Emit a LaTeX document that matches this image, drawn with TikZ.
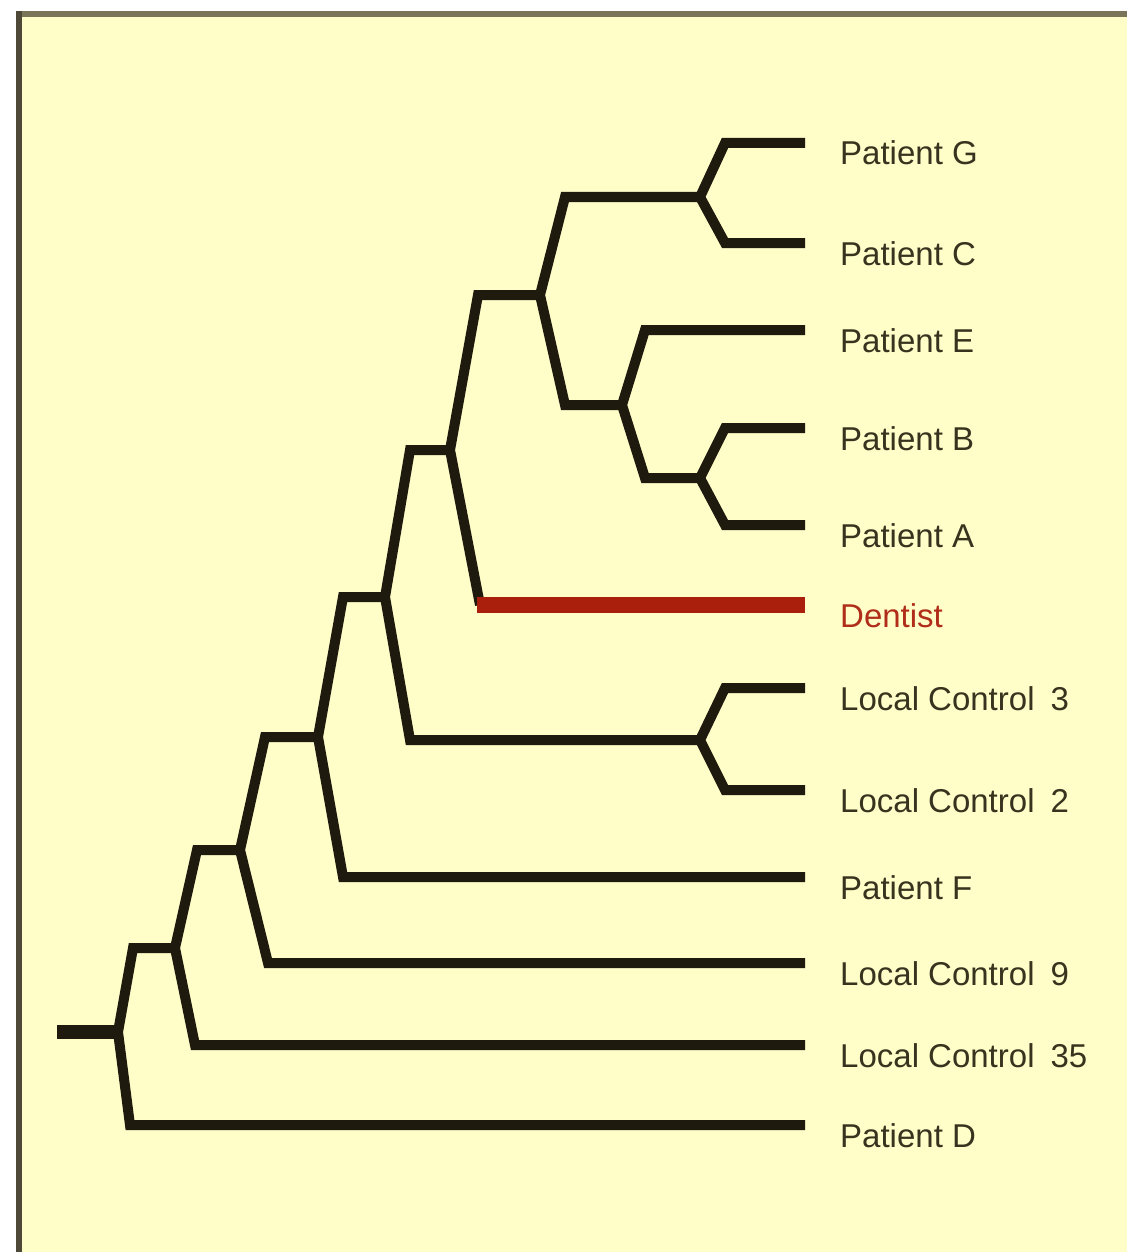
\documentclass[tikz,border=0pt]{standalone}
\usepackage{fontspec}
\setmainfont{Liberation Sans}
\definecolor{bg}{RGB}{255,253,200}
\definecolor{topb}{RGB}{122,116,88}
\definecolor{leftb}{RGB}{78,72,56}
\definecolor{ink}{RGB}{30,26,14}
\definecolor{txt}{RGB}{55,51,30}
\definecolor{red1}{RGB}{170,30,12}
\definecolor{redtxt}{RGB}{175,45,25}
\begin{document}
\begin{tikzpicture}[x=1pt,y=-1pt,
  branch/.style={draw=ink,line width=10pt,line join=miter,line cap=butt},
  leaf/.style={anchor=base west,inner sep=0pt,text=txt,font=\fontsize{33}{38}\selectfont}]
\useasboundingbox (0,0) rectangle (1127,1252);
% frame
\fill[white] (0,0) rectangle (1127,1252);
\fill[bg] (19,14) rectangle (1127,1252);
\fill[topb] (16,11) rectangle (1127,17);
\fill[leftb] (16,11) rectangle (22,1252);
% coordinates
\coordinate (r0) at (57,1032);
\coordinate (j0) at (118,1032);
\coordinate (b1) at (133,948);  \coordinate (j1) at (175,948);
\coordinate (bD) at (130,1125); \coordinate (tD) at (805,1125);
\coordinate (b2) at (197,850);  \coordinate (j2) at (240,850);
\coordinate (b35) at (195,1045); \coordinate (t35) at (805,1045);
\coordinate (b3) at (265,737);  \coordinate (j3) at (318,737);
\coordinate (b9) at (268,963);  \coordinate (t9) at (805,963);
\coordinate (b4) at (343,597);  \coordinate (j4) at (385,597);
\coordinate (bF) at (343,877);  \coordinate (tF) at (805,877);
\coordinate (b5) at (410,450);  \coordinate (j5) at (450,450);
\coordinate (b6) at (410,740);  \coordinate (j6) at (700,740);
\coordinate (bL3) at (725,688); \coordinate (tL3) at (805,688);
\coordinate (bL2) at (725,790); \coordinate (tL2) at (805,790);
\coordinate (b7) at (478,295);  \coordinate (j7) at (540,295);
\coordinate (bDen) at (480,605); \coordinate (tDen) at (805,605);
\coordinate (b8) at (565,197);  \coordinate (j8) at (700,197);
\coordinate (b9n) at (565,405); \coordinate (j9) at (622,405);
\coordinate (bG) at (725,143);  \coordinate (tG) at (805,143);
\coordinate (bC) at (725,243);  \coordinate (tC) at (805,243);
\coordinate (bE) at (645,330);  \coordinate (tE) at (805,330);
\coordinate (b10) at (645,478); \coordinate (j10) at (700,478);
\coordinate (bB) at (725,428);  \coordinate (tB) at (805,428);
\coordinate (bA) at (725,525);  \coordinate (tA) at (805,525);
% root stub
\draw[branch,line width=14pt] (r0) -- (j0);
% internal nodes: upper child -- junction -- lower child
\draw[branch] (j1) -- (b1) -- (j0) -- (bD) -- (tD);
\draw[branch] (j2) -- (b2) -- (j1) -- (b35) -- (t35);
\draw[branch] (j3) -- (b3) -- (j2) -- (b9) -- (t9);
\draw[branch] (j4) -- (b4) -- (j3) -- (bF) -- (tF);
\draw[branch] (j5) -- (b5) -- (j4) -- (b6) -- (j6);
\draw[branch] (tL3) -- (bL3) -- (j6) -- (bL2) -- (tL2);
\draw[branch] (j7) -- (b7) -- (j5) -- (bDen);
\draw[draw=red1,line width=16pt] (bDen) ++(-3,0) -- (tDen);
\draw[branch] (j8) -- (b8) -- (j7) -- (b9n) -- (j9);
\draw[branch] (tG) -- (bG) -- (j8) -- (bC) -- (tC);
\draw[branch] (tE) -- (bE) -- (j9) -- (b10) -- (j10);
\draw[branch] (tB) -- (bB) -- (j10) -- (bA) -- (tA);
% labels
\node[leaf] (LG) at (840,165) {Patient G};
\node[leaf] (LC) at (840,265) {Patient C};
\node[leaf] (LE) at (840,352) {Patient E};
\node[leaf] (LB) at (840,450) {Patient B};
\node[leaf] (LA) at (840,547) {Patient A};
\node[leaf,text=redtxt] (LDen) at (840,627) {Dentist};
\node[leaf] (LL3) at (840,710) {Local Control\hspace{16pt}3};
\node[leaf] (LL2) at (840,812) {Local Control\hspace{16pt}2};
\node[leaf] (LF) at (840,899) {Patient F};
\node[leaf] (LL9) at (840,985) {Local Control\hspace{16pt}9};
\node[leaf] (LL35) at (840,1067) {Local Control\hspace{16pt}35};
\node[leaf] (LD) at (840,1147) {Patient D};
\end{tikzpicture}
\end{document}
